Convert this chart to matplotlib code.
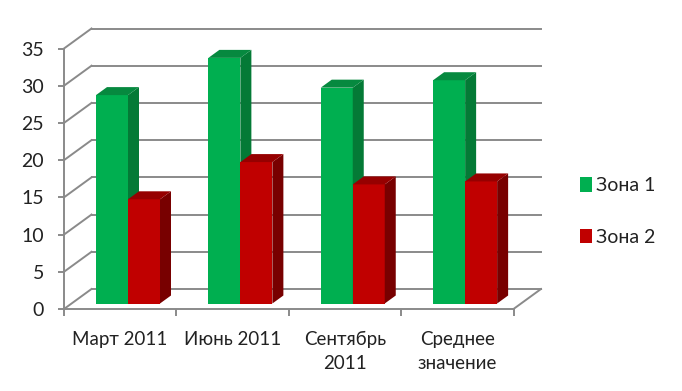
"""
Pseudo-3D clustered bars, two zones per period.
"""
import matplotlib
matplotlib.use("Agg")
import matplotlib.pyplot as plt
from matplotlib.patches import Patch, Polygon

# ── Data ───────────────────────────────────────────────────────────────────
categories = ["Март 2011", "Июнь 2011", "Сентябрь\n2011", "Среднее\nзначение"]
zone1 = [28, 33, 29, 30]
zone2 = [14, 19, 16, 16.4]
series_names = ["Зона 1", "Зона 2"]
y_ticks = [0, 5, 10, 15, 20, 25, 30, 35]

# ── Style ──────────────────────────────────────────────────────────────────
W, H = 682, 391
AX_L, AX_R, AX_B, AX_T = 64, 513.5, 309, 48.5
GRID = "#8a8a8a"
TEXT = "#222222"
GREEN = ("#00AF50", "#047A36", "#06893F")  # front, side, top
RED = ("#C00000", "#780000", "#960000")

plt.rcParams["font.family"] = ["Lato", "Open Sans", "DejaVu Sans"]

fig = plt.figure(figsize=(W / 100, H / 100), dpi=100, facecolor="white")
ax = fig.add_axes([AX_L / W, 1 - AX_B / H, (AX_R - AX_L) / W, (AX_B - AX_T) / H])
ax.set_xlim(0, len(categories))
ax.set_ylim(0, 35)
ax.patch.set_visible(False)

# pixel sizes to data units
px_x = len(categories) / (AX_R - AX_L)
px_y = 35 / (AX_B - AX_T)
wall_dx, wall_dy = 27.5 * px_x, 20 * px_y
bar_dx, bar_dy = 11 * px_x, 8 * px_y
bar_w = 32 * px_x
bar_start = 32 * px_x
base = 5.5 * px_y

# ── Walls and floor ────────────────────────────────────────────────────────
for t in y_ticks:
    ax.plot([0, wall_dx], [t, t + wall_dy], color=GRID, lw=1.4, clip_on=False, zorder=1)
    ax.plot([wall_dx, len(categories) + wall_dx], [t + wall_dy, t + wall_dy],
            color=GRID, lw=1.4, clip_on=False, zorder=1)
ax.plot([len(categories), len(categories) + wall_dx], [0, wall_dy],
        color=GRID, lw=1.4, clip_on=False, zorder=1)


def draw_bar(x, value, colors):
    front, side, top = colors
    y0, y1 = base, base + value
    x1 = x + bar_w
    ax.bar(x, value, bar_w, bottom=base, align="edge", color=front, lw=0, zorder=3)
    ax.add_patch(Polygon([(x1, y0), (x1 + bar_dx, y0 + bar_dy),
                          (x1 + bar_dx, y1 + bar_dy), (x1, y1)],
                         fc=side, lw=0, zorder=3, clip_on=False))
    ax.add_patch(Polygon([(x, y1), (x + bar_dx, y1 + bar_dy),
                          (x1 + bar_dx, y1 + bar_dy), (x1, y1)],
                         fc=top, lw=0, zorder=3, clip_on=False))


# ── Bars ───────────────────────────────────────────────────────────────────
for i in range(len(categories)):
    draw_bar(i + bar_start, zone1[i], GREEN)
    draw_bar(i + bar_start + bar_w, zone2[i], RED)

# ── Axes ───────────────────────────────────────────────────────────────────
ax.spines["top"].set_visible(False)
ax.spines["right"].set_visible(False)
for s in ("left", "bottom"):
    ax.spines[s].set_color(GRID)
    ax.spines[s].set_linewidth(1.4)

ax.set_yticks(y_ticks)
ax.tick_params(axis="y", colors=GRID, labelcolor=TEXT, labelsize=14,
               length=4.5, width=1.4, pad=10)
ax.set_xticks(range(len(categories) + 1))
ax.set_xticklabels([])
ax.tick_params(axis="x", which="major", color=GRID, length=5, width=1.4)
ax.set_xticks([i + 0.5 for i in range(len(categories))], minor=True)
ax.set_xticklabels(categories, minor=True, fontsize=13.5, color=TEXT, linespacing=1.55)
ax.tick_params(axis="x", which="minor", length=0, pad=15.5)

# ── Legend ─────────────────────────────────────────────────────────────────
handles = [Patch(fc=GREEN[0], lw=0), Patch(fc=RED[0], lw=0)]
fig.legend(handles, series_names, loc="center left", frameon=False,
           bbox_to_anchor=(580 / W, 1 - 211.5 / H), fontsize=14, labelcolor=TEXT,
           handlelength=0.6, handleheight=0.8, handletextpad=0.2, labelspacing=1.75,
           borderpad=0, borderaxespad=0)

fig.savefig("out.png", dpi=100, facecolor="white")
